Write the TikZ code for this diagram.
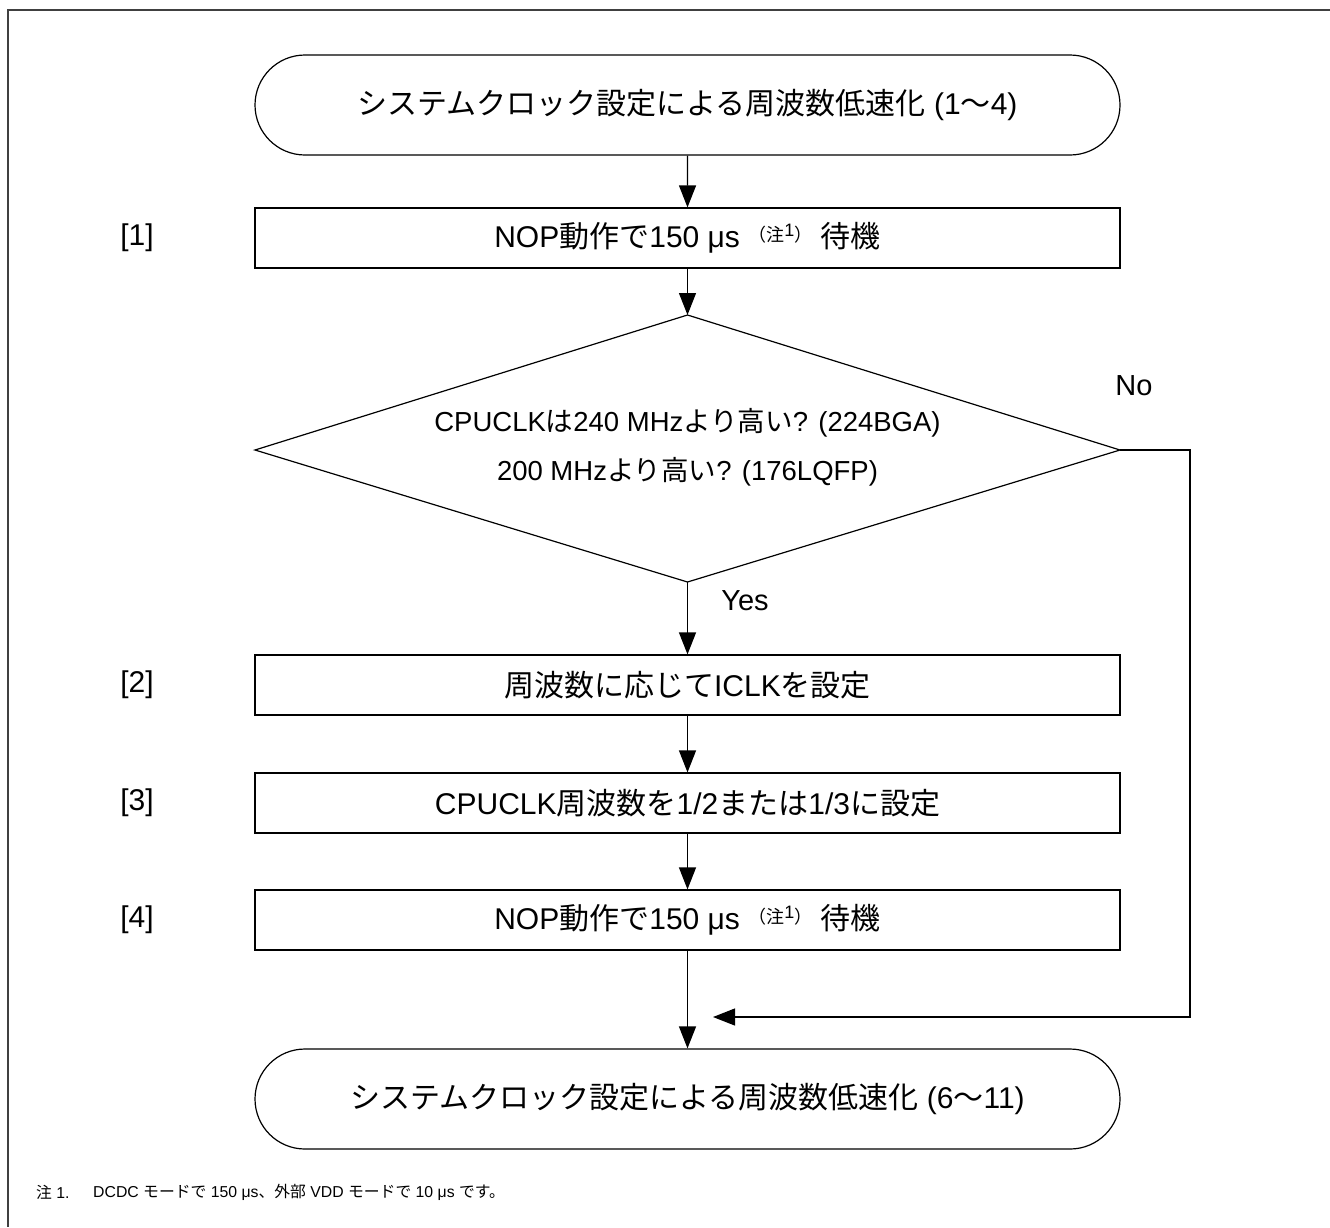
\documentclass[tikz,border=0pt]{standalone}
\usepackage{fontspec}
\setmainfont{Liberation Sans}
\newfontfamily\cjk{Noto Sans CJK JP}
\usetikzlibrary{arrows.meta,shapes.misc}
\newcommand\jp[1]{{\cjk #1}}
\newcommand\chu{\raisebox{6pt}{\fontsize{18}{18}\selectfont\jp{（注}\raisebox{5pt}{1}\jp{）}}}
\tikzset{
  flowline/.style={line width=1.2pt, draw=black},
  flowarrow/.style={flowline, -{Triangle[length=22pt,width=17pt]}},
  termbox/.style={draw, line width=1.2pt, rounded rectangle, minimum width=865pt, minimum height=100pt, inner sep=0pt, font=\fontsize{30}{36}\selectfont},
  procbox/.style={draw, line width=1.2pt, rectangle, minimum width=865pt, minimum height=60pt, inner sep=0pt, font=\fontsize{30}{36}\selectfont},
  steplabel/.style={font=\fontsize{30}{36}\selectfont},
  plain/.style={font=\fontsize{29}{36}\selectfont, inner sep=0pt},
  notetext/.style={font=\fontsize{15.8}{18}\selectfont, anchor=west, inner sep=0pt}
}
\begin{document}
\begin{tikzpicture}[x=1pt,y=-1pt]
\useasboundingbox (0,0) rectangle (1330,1227);
\draw[line width=2pt, draw=black!75] (1330,9.5) -- (7.5,9.5) -- (7.5,1227);

\node[termbox] (start) at (687.5,105) {\jp{システムクロック設定による周波数低速化} (1\jp{～}4)};
\node[procbox] (b1) at (687.5,238) {NOP\jp{動作で}150 μs \chu\ \jp{待機}};
\node[steplabel] (l1) at (137,238) {[1]};

\coordinate (dtop) at (687.5,315);
\coordinate (dleft) at (255,450);
\coordinate (dright) at (1120,450);
\coordinate (dbot) at (687.5,582);
\draw[flowline] (dtop) -- (dright) -- (dbot) -- (dleft) -- cycle;
\node[font=\fontsize{27.5}{36}\selectfont, inner sep=0pt, align=center] (dtext) at (687.5,447) {CPUCLK\jp{は}240 MHz\jp{より高い}? (224BGA)\\[13pt] 200 MHz\jp{より高い}? (176LQFP)};
\node[plain] (no) at (1134,386) {No};
\node[plain] (yes) at (745,601) {Yes};

\node[procbox] (b2) at (687.5,685) {\jp{周波数に応じて}ICLK\jp{を設定}};
\node[steplabel] (l2) at (137,685) {[2]};
\node[procbox] (b3) at (687.5,803) {CPUCLK\jp{周波数を}1/2\jp{または}1/3\jp{に設定}};
\node[steplabel] (l3) at (137,803) {[3]};
\node[procbox] (b4) at (687.5,920) {NOP\jp{動作で}150 μs \chu\ \jp{待機}};
\node[steplabel] (l4) at (137,920) {[4]};

\node[termbox] (end) at (687.5,1099) {\jp{システムクロック設定による周波数低速化} (6\jp{～}11)};

\coordinate (nright) at (1190,450);
\coordinate (ncorner) at (1190,1017);
\coordinate (njoin) at (713,1017);

\draw[flowarrow] (start) -- (b1);
\draw[flowarrow] (b1) -- (dtop);
\draw[flowarrow] (dbot) -- (b2);
\draw[flowarrow] (b2) -- (b3);
\draw[flowarrow] (b3) -- (b4);
\draw[flowarrow] (b4) -- (end);
\draw[flowarrow] (dright) -- (nright) -- (ncorner) -- (njoin);

\node[notetext] (n1) at (36,1192) {\jp{注} 1.};
\node[notetext] (n2) at (93,1192) {DCDC \jp{モードで} 150 μs\jp{、外部} VDD \jp{モードで} 10 μs \jp{です。}};
\end{tikzpicture}
\end{document}
